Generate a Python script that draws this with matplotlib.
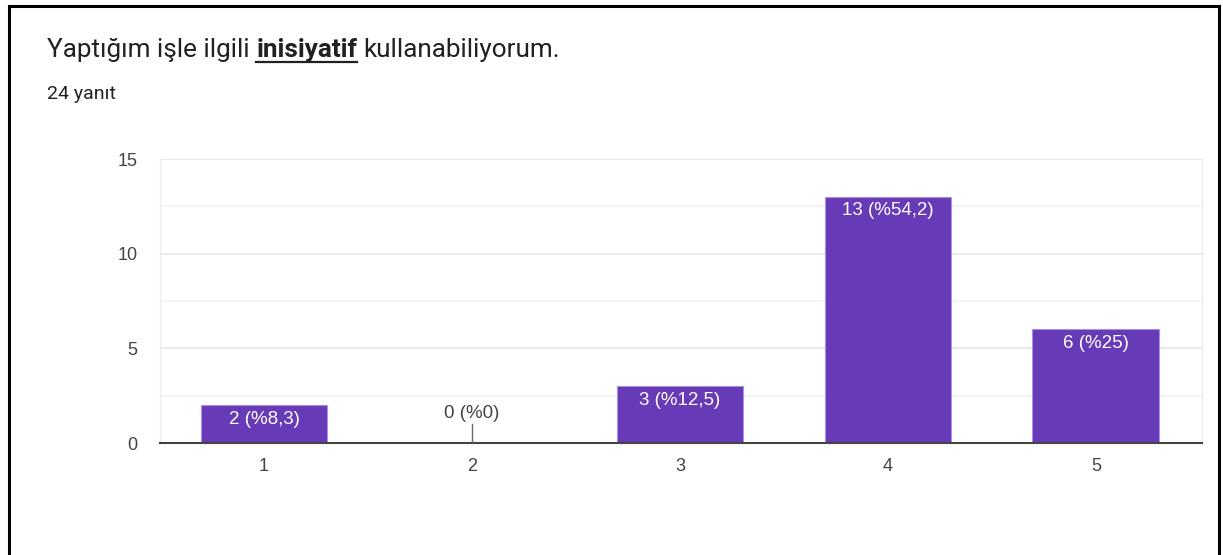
import matplotlib
matplotlib.use('Agg')
from matplotlib import pyplot as plt
from matplotlib.lines import Line2D

categories = ['1', '2', '3', '4', '5']
counts = [2, 0, 3, 13, 6]
percent_labels = ['2 (%8,3)', '0 (%0)', '3 (%12,5)', '13 (%54,2)', '6 (%25)']
title_pre = 'Yaptığım işle ilgili '
title_bold = 'inisiyatif'
title_post = 'kullanabiliyorum.'
subtitle = '24 yanıt'

W, H = 1223, 555
BAR = '#673ab7'
TXT = '#202124'

fig = plt.figure(figsize=(W / 100, H / 100), dpi=100)
ax = fig.add_axes([160 / W, (H - 443) / H, 1042 / W, (443 - 159) / H])

x = list(range(1, len(categories) + 1))
ax.bar(x, counts, width=0.61, color=BAR, edgecolor='#a98fdc', linewidth=0.8, zorder=3)
ax.set_xlim(0.5, 5.51)
ax.set_ylim(0, 15)

# grid: major and minor lines
for y in [5, 10, 15]:
    ax.axhline(y, color='#e6e6e6', lw=1.2, zorder=1)
for y in [2.5, 7.5, 12.5]:
    ax.axhline(y, color='#f2f2f2', lw=1.2, zorder=1)

for s in ['top', 'right', 'left']:
    ax.spines[s].set_color('#ececec')
    ax.spines[s].set_linewidth(1.0)
ax.spines['top'].set_visible(False)
ax.spines['bottom'].set_color('#444444')
ax.spines['bottom'].set_linewidth(1.5)
ax.spines['bottom'].set_zorder(4)

ax.set_yticks([0, 5, 10, 15])
ax.set_xticks(x)
ax.set_xticklabels(categories)
ax.tick_params(axis='both', length=0, labelsize=13, labelcolor='#444444')
ax.tick_params(axis='y', pad=16)
ax.tick_params(axis='x', pad=11)
for lab in ax.get_xticklabels() + ax.get_yticklabels():
    lab.set_family('Liberation Sans')

px = 15 / (443 - 159)  # data units per pixel
for xi, c, lab in zip(x, counts, percent_labels):
    if c > 0:
        ax.text(xi, c - 14 * px, lab, ha='center', va='center', color='white',
                fontsize=13.5, family='Liberation Sans', zorder=5)
    else:
        ax.plot([xi, xi], [0, 19 * px], color='#666666', lw=1, zorder=5)
        ax.text(xi, 29 * px, lab, ha='center', va='center', color='#444444',
                fontsize=13.5, family='Liberation Sans', zorder=5)

# title with bold underlined word
fig.canvas.draw()
renderer = fig.canvas.get_renderer()
fs = 18.8
ybase = 1 - 57 / H
t1 = fig.text(47 / W, ybase, title_pre.strip(), fontsize=fs, family='Roboto', color=TXT, va='baseline')
bb1 = t1.get_window_extent(renderer)
space = fs * 100 / 72 * 0.25
t2 = fig.text((bb1.x1 + space) / W, ybase, title_bold, fontsize=fs, family='Roboto',
              weight='bold', color=TXT, va='baseline')
bb2 = t2.get_window_extent(renderer)
yline = ybase - 5 / H
fig.add_artist(Line2D([bb2.x0 / W, bb2.x1 / W], [yline, yline], transform=fig.transFigure,
                      color=TXT, lw=1.6))
fig.text((bb2.x1 + space) / W, ybase, title_post, fontsize=fs, family='Roboto', color=TXT, va='baseline')
fig.text(47 / W, 1 - 99 / H, subtitle, fontsize=14, family='Roboto', color=TXT, va='baseline')

# black frame
lw = 2.2
fig.add_artist(Line2D([9 / W, 9 / W], [0, 1 - 6 / H], transform=fig.transFigure, color='black', lw=lw))
fig.add_artist(Line2D([1219 / W, 1219 / W], [0, 1 - 6 / H], transform=fig.transFigure, color='black', lw=lw))
fig.add_artist(Line2D([9 / W, 1219 / W], [1 - 6 / H, 1 - 6 / H], transform=fig.transFigure, color='black', lw=lw))

fig.savefig('out.png', dpi=100)
